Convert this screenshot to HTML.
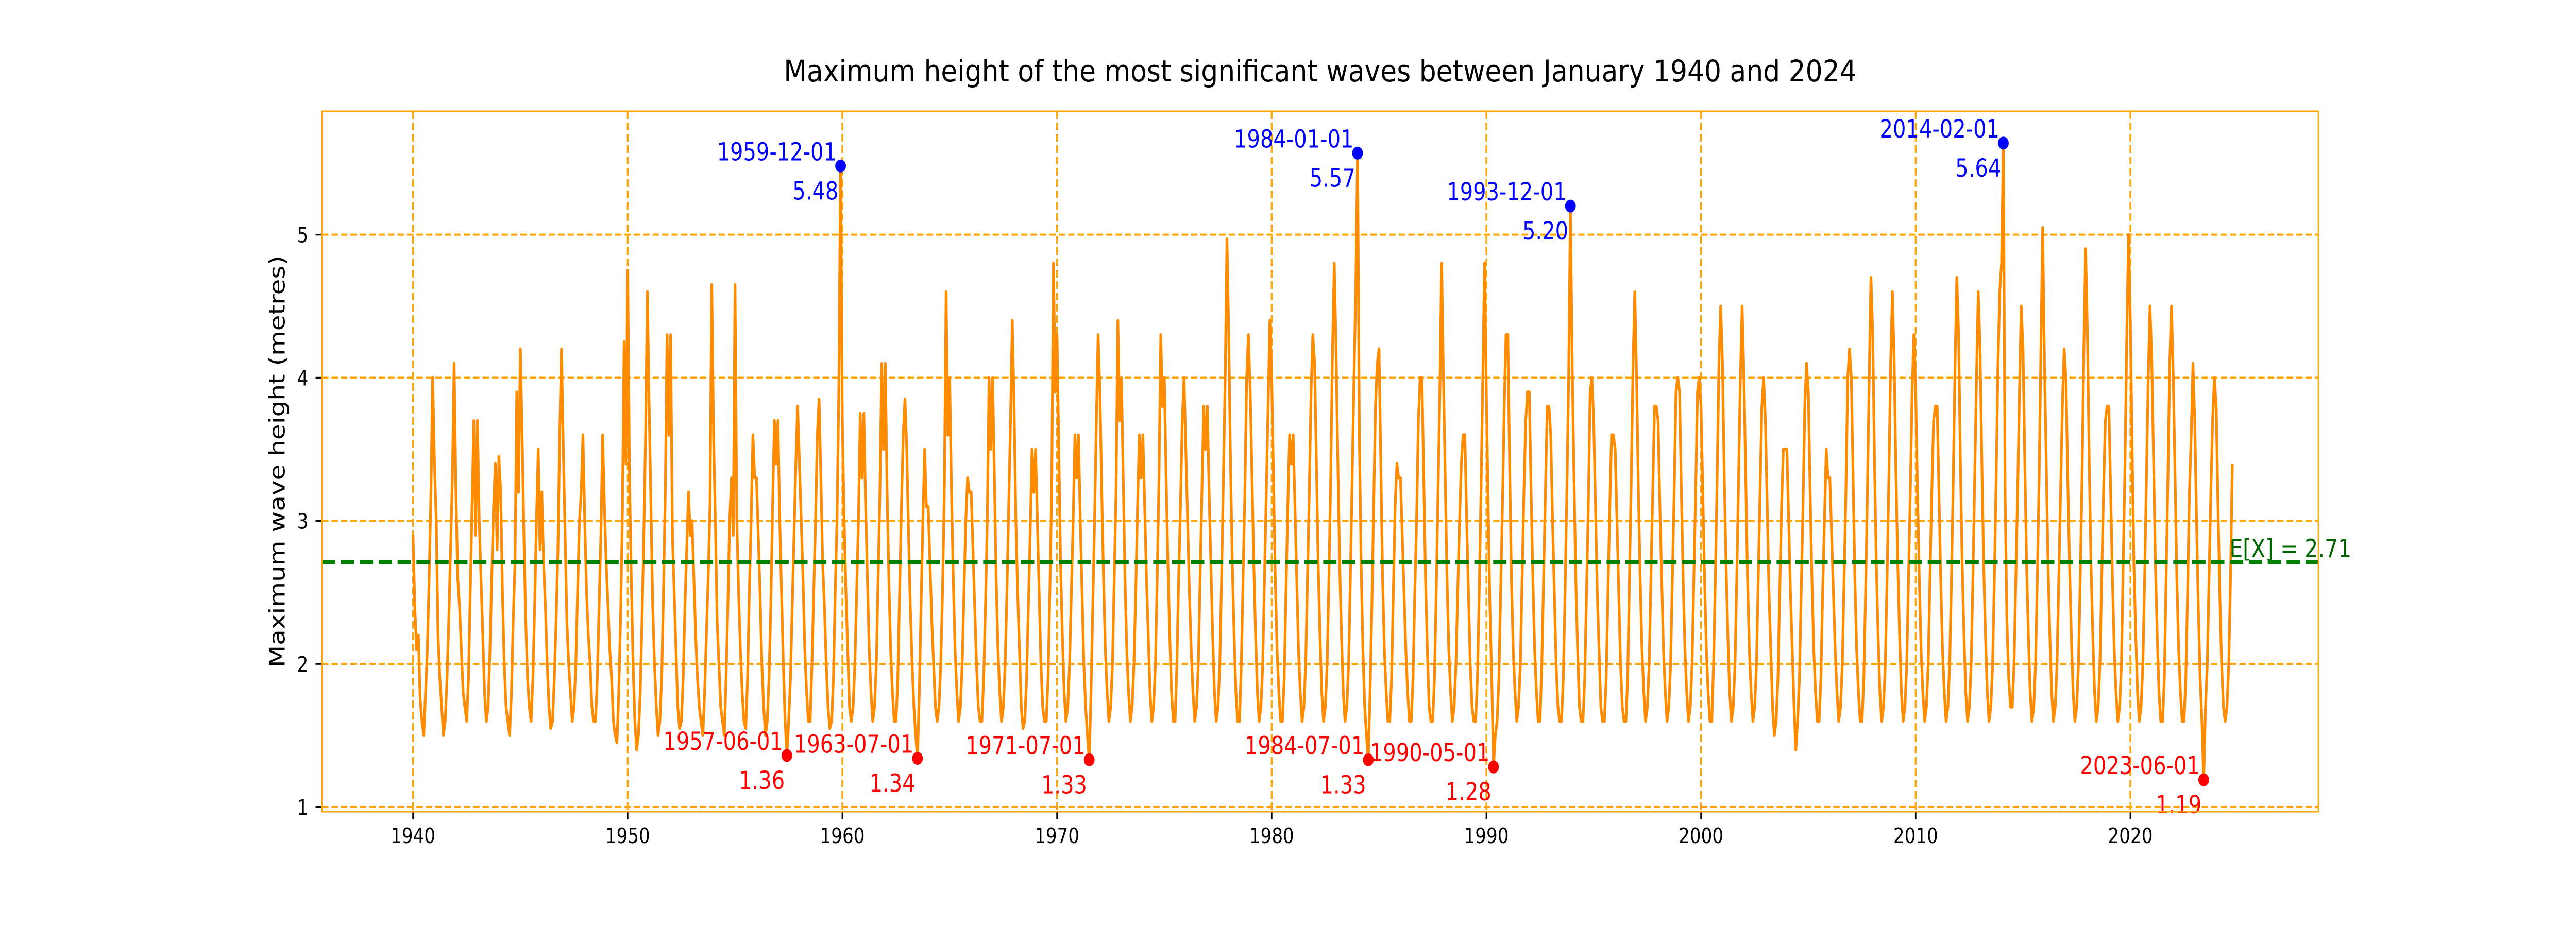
<!DOCTYPE html>
<html><head><meta charset="utf-8"><title>Maximum wave height</title>
<style>html,body{margin:0;padding:0;background:#fff;width:100%;height:100%;overflow:hidden}svg{display:block;width:100vw;height:100vh}text{font-family:"DejaVu Sans","Liberation Sans",sans-serif}</style>
</head><body>
<svg id="chart" xmlns="http://www.w3.org/2000/svg" viewBox="0 0 6000 1800" preserveAspectRatio="none">
<rect x="0" y="0" width="6000" height="1800" fill="#fff"/>
<text x="3075" y="158" font-size="58" text-anchor="middle" textLength="2499" lengthAdjust="spacingAndGlyphs">Maximum height of the most significant waves between January 1940 and 2024</text>
<text transform="translate(663,896) rotate(-90)" font-size="50" text-anchor="middle" textLength="800" lengthAdjust="spacingAndGlyphs">Maximum wave height (metres)</text>
<g id="grid"></g>
<g id="ticks"></g>
<g id="series"></g>
<g id="annot"></g>
<rect x="750" y="216" width="4650" height="1360" fill="none" stroke="#FFA500" stroke-width="3"/>
</svg>
<script>
const startYear = 1940;
const waveHeights = [
2.9,2.4,2.1,2.2,1.75,1.6,1.5,1.8,2.1,2.6,3.2,4.0,
3.4,3.0,2.2,1.9,1.7,1.5,1.6,1.9,2.3,2.8,3.3,4.1,
3.2,2.6,2.4,2.1,1.8,1.7,1.6,1.9,2.5,3.1,3.7,2.9,
3.7,3.0,2.6,2.2,1.8,1.6,1.7,2.1,2.6,3.1,3.4,2.8,
3.45,3.2,2.5,2.0,1.7,1.6,1.5,1.8,2.3,2.7,3.9,3.2,
4.2,3.6,2.9,2.3,1.9,1.7,1.6,1.9,2.4,3.0,3.5,2.8,
3.2,2.7,2.4,2.0,1.7,1.55,1.6,1.9,2.3,2.8,3.6,4.2,
3.5,2.9,2.3,2.0,1.8,1.6,1.7,2.0,2.5,3.0,3.2,3.6,
3.0,2.5,2.2,2.0,1.7,1.6,1.6,1.9,2.4,2.9,3.6,3.1,
2.7,2.4,2.1,1.9,1.6,1.5,1.45,1.8,2.3,3.0,4.25,3.4,
4.75,3.3,2.6,2.0,1.6,1.4,1.5,1.8,2.3,2.9,3.6,4.6,
3.8,3.1,2.4,2.0,1.7,1.5,1.6,1.9,2.5,3.2,4.3,3.6,
4.3,2.9,2.5,2.1,1.7,1.55,1.6,1.9,2.4,2.8,3.2,2.9,
3.0,2.6,2.2,1.9,1.7,1.6,1.5,1.8,2.2,2.6,3.1,4.65,
3.6,3.0,2.3,2.0,1.7,1.6,1.5,1.9,2.4,3.0,3.3,2.9,
4.65,3.0,2.5,2.1,1.8,1.6,1.55,1.9,2.5,3.0,3.6,3.3,
3.3,2.9,2.5,2.0,1.7,1.5,1.6,1.9,2.4,3.1,3.7,3.4,
3.7,3.0,2.5,2.0,1.6,1.36,1.6,1.9,2.4,2.9,3.4,3.8,
3.4,3.0,2.6,2.1,1.8,1.6,1.6,2.0,2.5,3.0,3.6,3.85,
3.3,2.7,2.4,2.0,1.7,1.55,1.6,1.9,2.5,3.0,3.9,5.48,
3.7,3.0,2.5,2.1,1.7,1.6,1.7,2.0,2.5,3.0,3.75,3.3,
3.75,3.1,2.6,2.1,1.8,1.6,1.7,2.0,2.6,3.2,4.1,3.5,
4.1,3.2,2.6,2.1,1.8,1.6,1.6,1.9,2.5,3.1,3.6,3.85,
3.5,2.9,2.4,2.0,1.7,1.5,1.34,1.8,2.4,3.0,3.5,3.1,
3.1,2.7,2.3,2.0,1.7,1.6,1.7,2.0,2.5,3.2,4.6,3.6,
4.0,3.2,2.6,2.1,1.8,1.6,1.7,2.0,2.5,3.0,3.3,3.2,
3.2,2.8,2.4,2.0,1.7,1.6,1.6,1.9,2.4,3.0,4.0,3.5,
4.0,3.3,2.6,2.1,1.8,1.6,1.7,2.0,2.5,3.1,3.7,4.4,
3.8,3.0,2.5,2.1,1.7,1.55,1.6,1.9,2.4,2.9,3.5,3.2,
3.5,3.0,2.5,2.0,1.7,1.6,1.6,1.9,2.5,3.2,4.8,3.9,
4.3,3.5,2.7,2.2,1.8,1.6,1.7,2.0,2.5,3.0,3.6,3.3,
3.6,3.0,2.5,2.0,1.7,1.5,1.33,1.8,2.4,3.0,3.7,4.3,
3.9,3.2,2.6,2.1,1.8,1.6,1.7,2.0,2.6,3.2,4.4,3.7,
4.0,3.3,2.6,2.1,1.8,1.6,1.7,2.0,2.5,3.1,3.6,3.3,
3.6,3.1,2.6,2.2,1.8,1.6,1.7,2.0,2.6,3.3,4.3,3.8,
4.0,3.3,2.7,2.2,1.8,1.6,1.6,2.0,2.6,3.1,3.7,4.0,
3.5,3.0,2.5,2.1,1.8,1.6,1.7,2.0,2.6,3.2,3.8,3.5,
3.8,3.2,2.7,2.2,1.8,1.6,1.7,2.0,2.6,3.3,4.0,4.97,
4.3,3.4,2.7,2.2,1.8,1.6,1.6,2.0,2.6,3.2,4.0,4.3,
3.9,3.3,2.7,2.2,1.8,1.6,1.7,2.0,2.6,3.2,3.8,4.4,
4.0,3.3,2.6,2.1,1.8,1.6,1.6,1.9,2.5,3.1,3.6,3.4,
3.6,3.1,2.6,2.1,1.8,1.6,1.7,2.0,2.6,3.2,3.9,4.3,
4.1,3.4,2.7,2.2,1.8,1.6,1.7,2.0,2.6,3.3,4.2,4.8,
4.2,3.4,2.7,2.2,1.8,1.6,1.7,2.0,2.6,3.3,4.0,4.6,
5.57,3.6,2.7,2.1,1.7,1.5,1.33,1.8,2.4,3.1,3.8,4.1,
4.2,3.4,2.6,2.1,1.8,1.6,1.6,1.9,2.5,3.1,3.4,3.3,
3.3,2.9,2.5,2.1,1.8,1.6,1.6,1.9,2.5,3.0,3.7,4.0,
4.0,3.3,2.6,2.1,1.7,1.6,1.6,1.9,2.5,3.2,3.9,4.8,
4.0,3.3,2.6,2.1,1.8,1.6,1.7,2.0,2.5,3.0,3.4,3.6,
3.6,3.0,2.5,2.0,1.7,1.6,1.6,1.9,2.5,3.2,4.0,4.8,
3.9,3.1,2.4,1.9,1.28,1.5,1.6,1.9,2.5,3.1,3.8,4.3,
4.3,3.4,2.6,2.1,1.8,1.6,1.7,2.0,2.6,3.2,3.7,3.9,
3.9,3.2,2.6,2.1,1.8,1.6,1.6,2.0,2.6,3.2,3.8,3.8,
3.6,3.0,2.5,2.0,1.7,1.6,1.6,1.9,2.5,3.2,4.0,5.2,
4.1,3.3,2.6,2.1,1.7,1.6,1.6,1.9,2.5,3.1,3.9,4.0,
3.7,3.1,2.5,2.1,1.7,1.6,1.6,1.9,2.5,3.1,3.6,3.6,
3.5,3.0,2.5,2.0,1.7,1.6,1.6,1.9,2.6,3.3,4.1,4.6,
4.0,3.2,2.6,2.1,1.8,1.6,1.7,2.0,2.6,3.2,3.8,3.8,
3.7,3.1,2.6,2.1,1.8,1.6,1.7,2.0,2.6,3.2,3.9,4.0,
3.9,3.2,2.6,2.1,1.8,1.6,1.7,2.0,2.6,3.2,3.9,4.0,
3.8,3.2,2.6,2.1,1.8,1.6,1.6,2.0,2.6,3.3,4.1,4.5,
4.1,3.3,2.7,2.2,1.8,1.6,1.7,2.0,2.6,3.3,4.0,4.5,
4.0,3.3,2.6,2.1,1.8,1.6,1.7,2.0,2.6,3.2,3.8,4.0,
3.7,3.1,2.5,2.1,1.7,1.5,1.6,1.9,2.5,3.1,3.5,3.5,
3.5,3.0,2.5,2.1,1.7,1.4,1.6,1.9,2.5,3.1,3.8,4.1,
3.9,3.2,2.6,2.1,1.8,1.6,1.6,1.9,2.5,3.0,3.5,3.3,
3.3,2.9,2.5,2.1,1.8,1.6,1.7,2.0,2.6,3.2,4.0,4.2,
4.0,3.3,2.6,2.1,1.8,1.6,1.6,1.9,2.5,3.2,4.0,4.7,
4.3,3.4,2.7,2.2,1.8,1.6,1.7,2.0,2.6,3.3,4.1,4.6,
4.1,3.3,2.7,2.2,1.8,1.6,1.7,2.0,2.6,3.2,3.9,4.3,
3.9,3.2,2.6,2.1,1.8,1.6,1.7,2.0,2.6,3.2,3.7,3.8,
3.8,3.2,2.6,2.1,1.8,1.6,1.7,2.0,2.6,3.3,4.1,4.7,
4.3,3.4,2.7,2.2,1.8,1.6,1.7,2.0,2.6,3.3,4.0,4.6,
4.2,3.4,2.7,2.2,1.8,1.6,1.7,2.0,2.6,3.3,4.1,4.6,
4.8,5.64,3.2,2.3,1.9,1.7,1.7,2.0,2.6,3.2,3.9,4.5,
4.2,3.4,2.7,2.2,1.8,1.6,1.7,2.0,2.6,3.3,4.2,5.05,
4.1,3.4,2.7,2.2,1.8,1.6,1.7,2.0,2.6,3.2,3.8,4.2,
4.0,3.3,2.7,2.2,1.8,1.6,1.7,2.0,2.6,3.3,4.2,4.9,
4.3,3.4,2.7,2.2,1.8,1.6,1.7,2.0,2.6,3.2,3.7,3.8,
3.8,3.2,2.6,2.1,1.8,1.6,1.7,2.0,2.7,3.4,4.3,5.0,
4.4,3.5,2.7,2.2,1.8,1.6,1.7,2.0,2.6,3.3,4.0,4.5,
4.1,3.4,2.7,2.2,1.8,1.6,1.6,1.9,2.6,3.3,4.1,4.5,
4.0,3.3,2.6,2.1,1.8,1.6,1.6,1.9,2.5,3.2,3.6,4.1,
3.7,3.0,2.4,1.9,1.6,1.19,1.7,2.0,2.6,3.2,3.7,4.0,
3.8,3.1,2.5,2.0,1.7,1.6,1.7,2.0,2.6,3.4
];
const meanValue = [2.71];
const maxDates = ["1959-12-01","1984-01-01","1993-12-01","2014-02-01"];
const maxValues = [5.48,5.57,5.20,5.64];
const minDates = ["1957-06-01","1963-07-01","1971-07-01","1984-07-01","1990-05-01","2023-06-01"];
const minValues = [1.36,1.34,1.33,1.33,1.28,1.19];
const xTicks = [1940,1950,1960,1970,1980,1990,2000,2010,2020];
const yTicks = [1,2,3,4,5];

const NS = "http://www.w3.org/2000/svg";
const X0 = 750, X1 = 5400, Y0 = 216, Y1 = 1576;
const xMin = 1935.76, xMax = 2028.76, yMin = 0.9675, yMax = 5.8625;
function xs(t){ return X0 + (t - xMin) / (xMax - xMin) * (X1 - X0); }
function ys(v){ return Y1 - (v - yMin) / (yMax - yMin) * (Y1 - Y0); }
function dateToT(d){ const p = d.split("-"); return +p[0] + (+p[1] - 1) / 12; }
function mk(tag, attrs, parent){ const e = document.createElementNS(NS, tag); for (const k in attrs) e.setAttribute(k, attrs[k]); parent.appendChild(e); return e; }

const grid = document.getElementById("grid");
const ticks = document.getElementById("ticks");
xTicks.forEach(t => {
  const x = xs(t);
  const g = mk("line", {x1:x, x2:x, y1:Y0, y2:Y1, stroke:"#FFA500", "stroke-width":4, "stroke-dasharray":"15 7"}, grid);
  
  
  const tk = mk("line", {x1:x, x2:x, y1:Y1, y2:Y1+15, stroke:"#000", "stroke-width":3.3}, ticks);
  
  
  const lb = mk("text", {x:x, y:1637, "font-size":41, "text-anchor":"middle"}, ticks);
  lb.textContent = t;
  
  
});
yTicks.forEach(v => {
  const y = ys(v);
  const g = mk("line", {x1:X0, x2:X1, y1:y, y2:y, stroke:"#FFA500", "stroke-width":4, "stroke-dasharray":"15 7"}, grid);
  
  
  const tk = mk("line", {x1:X0-15, x2:X0, y1:y, y2:y, stroke:"#000", "stroke-width":3.3}, ticks);
  
  
  const lb = mk("text", {x:718, y:y+15, "font-size":41, "text-anchor":"end"}, ticks);
  lb.textContent = v;
  
  
});

const series = document.getElementById("series");
let d = "";
waveHeights.forEach((v, i) => { d += (i ? "L" : "M") + xs(startYear + i / 12).toFixed(1) + " " + ys(v).toFixed(1); });
const path = mk("path", {d:d, fill:"none", stroke:"#FF8C00", "stroke-width":6.25, "stroke-linejoin":"round"}, series);



const annot = document.getElementById("annot");
const my = ys(meanValue[0]);
const ml = mk("line", {x1:X0, x2:X1, y1:my, y2:my, stroke:"#008000", "stroke-width":8.3, "stroke-dasharray":"31 13"}, annot);


const mt = mk("text", {x:5193, y:my-10, "font-size":49, fill:"#006400"}, annot);
mt.textContent = "E[X] = " + meanValue[0].toFixed(2);



function point(date, val, color, kind){
  const px = xs(dateToT(date)), py = ys(val);
  const c = mk("circle", {cx:px, cy:py, r:12.5, fill:color}, annot);
  
  
  const t1 = mk("text", {x:px-9, y:py-11, "font-size":48, fill:color, "text-anchor":"end"}, annot);
  t1.textContent = date;
  
  
  const t2 = mk("text", {x:px-5, y:py+65, "font-size":48, fill:color, "text-anchor":"end"}, annot);
  t2.textContent = val.toFixed(2);
  
  
}
maxDates.forEach((dt, i) => point(dt, maxValues[i], "#0000FF", "max"));
minDates.forEach((dt, i) => point(dt, minValues[i], "#FF0000", "min"));
</script>
</body></html>
